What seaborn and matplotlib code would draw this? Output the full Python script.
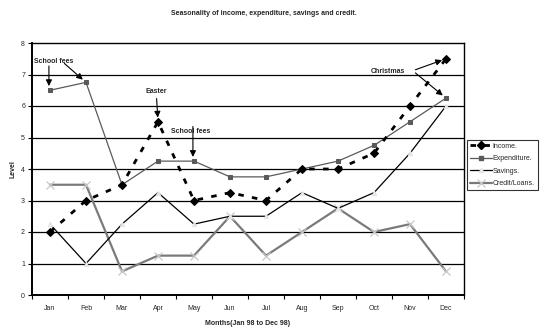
import matplotlib
matplotlib.use("Agg")
import matplotlib.pyplot as plt
import seaborn as sns
import pandas as pd
from matplotlib.lines import Line2D

months = ["Jan", "Feb", "Mar", "Apr", "May", "Jun", "Jul", "Aug", "Sep", "Oct", "Nov", "Dec"]
income = [2, 3, 3.5, 5.5, 3, 3.25, 3, 4, 4, 4.5, 6, 7.5]
expenditure = [6.5, 6.75, 3.5, 4.25, 4.25, 3.75, 3.75, 4, 4.25, 4.75, 5.5, 6.25]
savings = [2.25, 1, 2.25, 3.25, 2.25, 2.5, 2.5, 3.25, 2.75, 3.25, 4.5, 6]
credit = [3.5, 3.5, 0.75, 1.25, 1.25, 2.5, 1.25, 2, 2.75, 2, 2.25, 0.75]
series_names = ["Income.", "Expenditure.", "Savings.", "Credit/Loans."]
y_ticks = list(range(0, 9))

sns.set_theme(style="white")
plt.rcParams["font.family"] = ["Liberation Sans", "DejaVu Sans"]

fig = plt.figure(figsize=(5.42, 3.27), dpi=100)
ax = fig.add_axes([32 / 542, 1 - 295 / 327, (464 - 32) / 542, (295 - 43) / 327])

df = pd.DataFrame({"x": range(len(months)), "month": months,
                   "Income.": income, "Expenditure.": expenditure,
                   "Savings.": savings, "Credit/Loans.": credit})

# horizontal grid lines
for y in y_ticks[1:-1]:
    ax.axhline(y, color="black", lw=0.9, zorder=0)

styles = {
    "Income.": dict(color="black", lw=2.0, ls=(0, (2.0, 3.0)), marker="D", ms=4.5,
                    mfc="black", mec="black", zorder=5),
    "Expenditure.": dict(color="#5a5a5a", lw=0.9, ls="-", marker="s", ms=3.2,
                         mfc="#5a5a5a", mec="#5a5a5a", zorder=4),
    "Savings.": dict(color="black", lw=0.9, ls="-", marker="^", ms=3.2,
                     mfc="#e6e6e6", mec="#e6e6e6", zorder=3),
    "Credit/Loans.": dict(color="#7a7a7a", lw=1.6, ls="-", marker="x", ms=6,
                          mfc="#c8c8c8", mec="#c8c8c8", mew=0.9, zorder=2),
}

for name in series_names:
    st = dict(styles[name])
    z = st.pop("zorder")
    sns.lineplot(data=df, x="x", y=name, ax=ax, estimator=None, sort=False,
                 legend=False, zorder=z, **st)

ax.set_xlim(-0.5, len(months) - 0.5)
ax.set_ylim(0, 8)
ax.set_yticks(y_ticks)
ax.set_yticklabels([str(v) for v in y_ticks], fontsize=5)
ax.set_xticks(range(len(months)))
ax.set_xticklabels(months, fontsize=5)
ax.set_xticks([i - 0.5 for i in range(len(months) + 1)], minor=True)
ax.tick_params(axis="x", which="major", length=0, pad=7)
ax.tick_params(axis="x", which="minor", length=3, width=0.8, color="black", direction="out")
ax.tick_params(axis="y", length=3, width=0.8, color="black", direction="out", pad=2)
ax.xaxis.set_ticks_position("bottom")
ax.yaxis.set_ticks_position("left")
for sp in ax.spines.values():
    sp.set_color("black")
    sp.set_linewidth(1.0)
ax.spines["left"].set_linewidth(1.4)
ax.spines["bottom"].set_linewidth(1.4)

ax.set_xlabel("Months(Jan 98 to Dec 98)", fontsize=5, fontweight="bold", labelpad=6)
ax.set_ylabel("Level", fontsize=5, fontweight="bold", labelpad=3)
fig.suptitle("Seasonality of income, expenditure, savings and credit.", fontsize=5,
             fontweight="bold", x=264 / 542, y=1 - 10 / 327, va="top")

arrow = dict(arrowstyle="-|>", color="black", lw=0.8, mutation_scale=9, shrinkA=0, shrinkB=3)
fs = 5
ax.text(0.1, 7.4, "School fees", fontsize=fs, fontweight="bold", ha="center", va="center")
ax.annotate("", xy=(-0.03, expenditure[0]), xytext=(-0.03, 7.27), arrowprops=arrow)
ax.annotate("", xy=(1, expenditure[1]), xytext=(0.4, 7.35), arrowprops=arrow)
ax.annotate("Easter", xy=(3, income[3]), xytext=(2.95, 6.45), fontsize=fs,
            fontweight="bold", ha="center", va="center", arrowprops=arrow)
ax.text(3.9, 5.2, "School fees", fontsize=fs, fontweight="bold", ha="center", va="center")
ax.annotate("", xy=(3.97, expenditure[4]), xytext=(3.97, 5.35), arrowprops=arrow)
ax.text(9.4, 7.08, "Christmas", fontsize=fs, fontweight="bold", ha="center", va="center")
ax.annotate("", xy=(11, income[11]), xytext=(10.15, 7.15), arrowprops=arrow)
ax.annotate("", xy=(11, expenditure[11]), xytext=(10.15, 7.05), arrowprops=arrow)

handles = []
for name in series_names:
    st = dict(styles[name])
    st.pop("zorder")
    handles.append(Line2D([0], [0], **st))
leg = fig.legend(handles, series_names, loc="upper left",
                 bbox_to_anchor=(467 / 542, 1 - 140 / 327), fontsize=5, frameon=True,
                 fancybox=False, edgecolor="black", handlelength=3.2, handletextpad=0.1,
                 borderpad=0.4, labelspacing=0.8, borderaxespad=0)
leg.get_frame().set_linewidth(0.8)

fig.savefig("out.png", dpi=100)
